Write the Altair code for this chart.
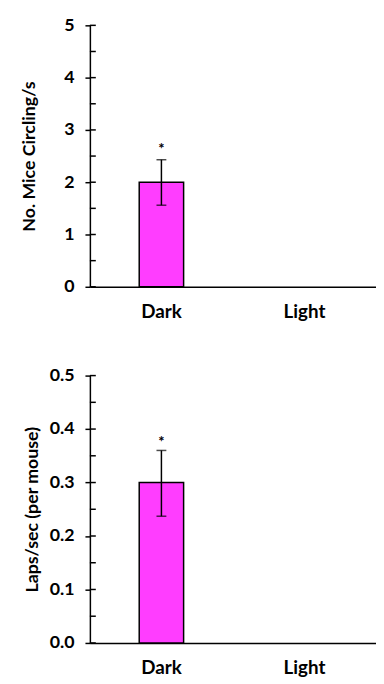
import altair as alt
import pandas as pd

conditions = ["Dark", "Light"]

# Panel 1: No. Mice Circling/s
circ_mean = [2.0, 0.0]
circ_lo = [1.56, None]
circ_hi = [2.43, None]
circ_ticks = [0, 1, 2, 3, 4, 5]
circ_minor = [0, 0.5, 1, 1.5, 2, 2.5, 3, 3.5, 4, 4.5, 5]

# Panel 2: Laps/sec (per mouse)
laps_mean = [0.30, 0.0]
laps_lo = [0.237, None]
laps_hi = [0.36, None]
laps_ticks = [0.0, 0.1, 0.2, 0.3, 0.4, 0.5]
laps_minor = [0.0, 0.05, 0.1, 0.15, 0.2, 0.25, 0.3, 0.35, 0.4, 0.45, 0.5]

FONT = "Lato"
BAR_COLOR = "#FF3DFF"


def panel(mean, lo, hi, ticks, minor, title, fmt, height, title_pad, star_dy):
    df = pd.DataFrame({"cond": conditions, "mean": mean, "lo": lo, "hi": hi})
    dfm = pd.DataFrame({"v": minor})
    ymax = ticks[-1]
    xs = alt.Scale(domain=conditions, paddingInner=0, paddingOuter=0)
    x = alt.X("cond:N", sort=conditions, title=None, scale=xs,
              axis=alt.Axis(labelAngle=0, ticks=False, labelPadding=16,
                            labelFontSize=19, labelFontWeight="bold",
                            domainColor="black", domainWidth=1.5))
    y = alt.Y("mean:Q", title=title,
              scale=alt.Scale(domain=[0, ymax], nice=False, zero=True),
              axis=alt.Axis(values=ticks, format=fmt, tickSize=5,
                            labelPadding=11, titlePadding=title_pad,
                            grid=False, domainColor="black", domainWidth=1.5,
                            tickColor="black", tickWidth=1.5))
    base = alt.Chart(df)
    xe = alt.X("cond:N", sort=conditions, scale=xs)
    bars = base.transform_filter("datum.mean > 0").mark_bar(
        size=45, color=BAR_COLOR, stroke="black", strokeWidth=1.5
    ).encode(x=x, y=y)
    err = base.transform_filter("isValid(datum.lo)")
    rule = err.mark_rule(color="black", strokeWidth=1.5).encode(
        x=xe, y="lo:Q", y2="hi:Q")
    cap_hi = err.mark_tick(orient="horizontal", color="black", size=10,
                           thickness=1.5).encode(x=xe, y="hi:Q")
    cap_lo = err.mark_tick(orient="horizontal", color="black", size=10,
                           thickness=1.5).encode(x=xe, y="lo:Q")
    star = err.mark_text(text="*", font=FONT, fontSize=15, fontWeight="bold",
                         dy=star_dy, color="black").encode(x=xe, y="hi:Q")
    inner = alt.Chart(dfm).mark_rule(color="black", strokeWidth=1.5).encode(
        y=alt.Y("v:Q"), x=alt.value(0), x2=alt.value(6))
    return alt.layer(bars, rule, cap_hi, cap_lo, star, inner).properties(
        width=290, height=height)


top = panel(circ_mean, circ_lo, circ_hi, circ_ticks, circ_minor,
            "No. Mice Circling/s", "d", 265, 26, -11)
bottom = panel(laps_mean, laps_lo, laps_hi, laps_ticks, laps_minor,
               "Laps/sec (per mouse)", ".1f", 271, 8, -9)

chart = alt.vconcat(top, bottom, spacing=46).properties(
    padding={"left": 12, "top": 4, "right": 0, "bottom": 0}
).configure_view(stroke=None).configure_axis(
    labelFont=FONT, titleFont=FONT, labelFontSize=18, labelFontWeight="bold",
    titleFontSize=18, titleFontWeight="bold", labelColor="black",
    titleColor="black"
)

chart.save("out.html", embed_options={"renderer": "svg", "actions": False})
